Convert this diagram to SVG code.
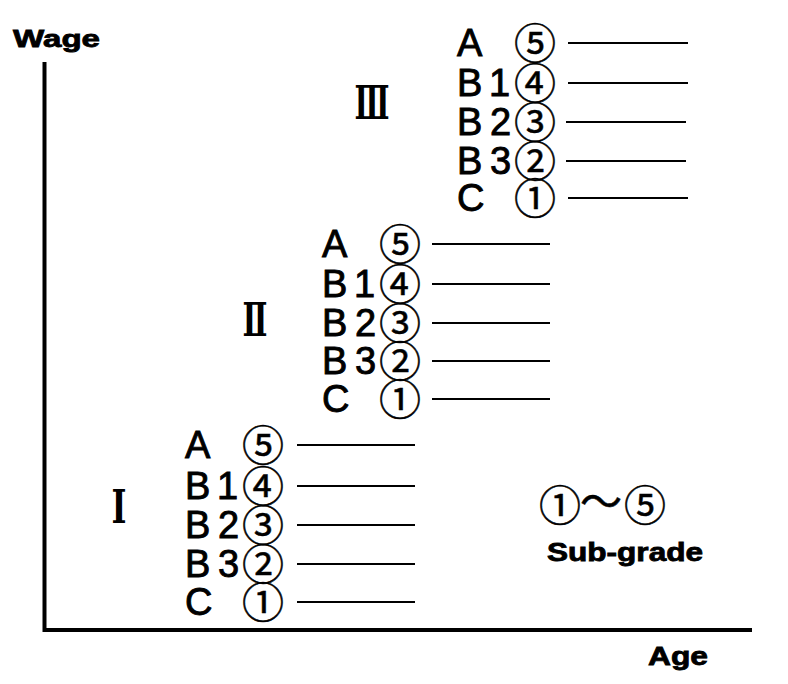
<svg xmlns="http://www.w3.org/2000/svg" width="788" height="684" viewBox="0 0 788 684">
<style>
.lt{font-family:"Liberation Sans",Arial,sans-serif;font-size:38px;fill:#000;stroke:#000;stroke-width:0.9}
.cn{font-family:"Noto Sans CJK JP",sans-serif;font-size:42px;text-anchor:middle;fill:#000;stroke:#000;stroke-width:0.5}
.ln{stroke:#000;stroke-width:2.2;fill:none}
.ax{stroke:#000;stroke-width:4;fill:none}
.rm{font-family:"DejaVu Serif","Noto Serif CJK JP","Noto Sans CJK JP",serif;font-weight:bold;text-anchor:middle;fill:#000}
.lb{font-family:"Liberation Sans",Arial,sans-serif;font-weight:bold;fill:#000;stroke:#000;stroke-width:0.8}
</style>
<rect width="788" height="684" fill="#fff"/>
<g id="axes">
<path class="ax" d="M44.5,62 V630 H752"/>
<text class="lb" x="13" y="47" font-size="24" textLength="87" lengthAdjust="spacingAndGlyphs">Wage</text>
<text class="lb" x="648" y="665" font-size="26" textLength="60" lengthAdjust="spacingAndGlyphs">Age</text>
</g>
<g id="grade-III">
<text class="rm" x="372" y="119" font-size="46" textLength="35" lengthAdjust="spacingAndGlyphs">Ⅲ</text>
<g id="III-A"><text class="lt" x="457" y="56">A</text><text class="cn" x="535" y="59">⑤</text></g>
<g id="III-B1"><text class="lt" x="457 489" y="96">B1</text><text class="cn" x="535" y="99">④</text></g>
<g id="III-B2"><text class="lt" x="457 490" y="135">B2</text><text class="cn" x="535" y="138">③</text></g>
<g id="III-B3"><text class="lt" x="457 490" y="174">B3</text><text class="cn" x="535" y="177">②</text></g>
<g id="III-C"><text class="lt" x="457" y="211">C</text><text class="cn" x="535" y="214">①</text></g>
</g>
<g id="grade-II">
<text class="rm" x="255" y="336" font-size="46" textLength="25" lengthAdjust="spacingAndGlyphs">Ⅱ</text>
<g id="II-A"><text class="lt" x="322" y="257">A</text><text class="cn" x="400" y="260">⑤</text></g>
<g id="II-B1"><text class="lt" x="322 354" y="297">B1</text><text class="cn" x="400" y="300">④</text></g>
<g id="II-B2"><text class="lt" x="322 355" y="336">B2</text><text class="cn" x="400" y="339">③</text></g>
<g id="II-B3"><text class="lt" x="322 355" y="374">B3</text><text class="cn" x="400" y="377">②</text></g>
<g id="II-C"><text class="lt" x="322" y="412">C</text><text class="cn" x="400" y="415">①</text></g>
</g>
<g id="grade-I">
<text class="rm" x="119" y="523" font-size="46" textLength="15" lengthAdjust="spacingAndGlyphs">I</text>
<g id="I-A"><text class="lt" x="185" y="458">A</text><text class="cn" x="263" y="461">⑤</text></g>
<g id="I-B1"><text class="lt" x="185 217" y="499">B1</text><text class="cn" x="263" y="502">④</text></g>
<g id="I-B2"><text class="lt" x="185 218" y="538">B2</text><text class="cn" x="263" y="541">③</text></g>
<g id="I-B3"><text class="lt" x="185 218" y="577">B3</text><text class="cn" x="263" y="580">②</text></g>
<g id="I-C"><text class="lt" x="185" y="615">C</text><text class="cn" x="263" y="618">①</text></g>
</g>
<g id="legend">
<text class="cn" x="560" y="521">①</text>
<text class="cn" x="601" y="517" font-size="36">〜</text>
<text class="cn" x="645" y="521">⑤</text>
<text class="lb" x="547" y="561" font-size="25" textLength="156" lengthAdjust="spacingAndGlyphs">Sub-grade</text>
</g>
<g id="connectors">
<line class="ln" x1="568" y1="43" x2="688" y2="43"/>
<line class="ln" x1="568" y1="83" x2="688" y2="83"/>
<line class="ln" x1="566" y1="122" x2="686" y2="122"/>
<line class="ln" x1="566" y1="161" x2="686" y2="161"/>
<line class="ln" x1="568" y1="198" x2="688" y2="198"/>
<line class="ln" x1="432" y1="244" x2="550" y2="244"/>
<line class="ln" x1="432" y1="284" x2="550" y2="284"/>
<line class="ln" x1="432" y1="323" x2="550" y2="323"/>
<line class="ln" x1="432" y1="361" x2="550" y2="361"/>
<line class="ln" x1="432" y1="399" x2="550" y2="399"/>
<line class="ln" x1="297" y1="445" x2="415" y2="445"/>
<line class="ln" x1="297" y1="486" x2="415" y2="486"/>
<line class="ln" x1="297" y1="525" x2="415" y2="525"/>
<line class="ln" x1="297" y1="564" x2="415" y2="564"/>
<line class="ln" x1="297" y1="602" x2="415" y2="602"/>
</g>
</svg>
